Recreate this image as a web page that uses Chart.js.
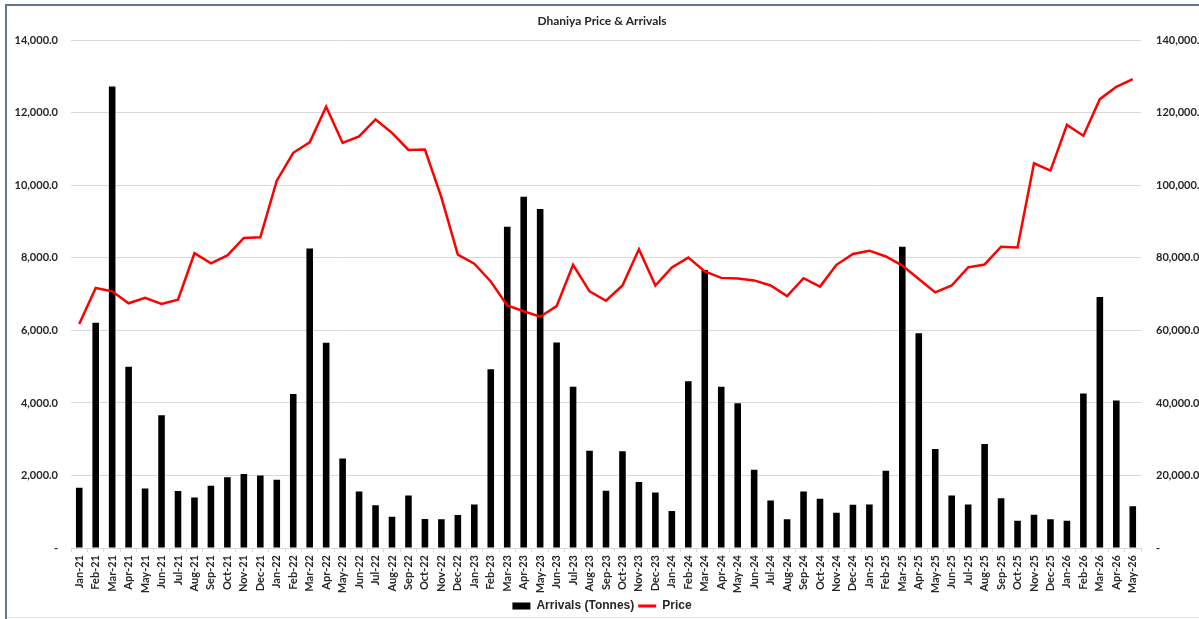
<!DOCTYPE html>
<html>
<head>
<meta charset="utf-8">
<title>Dhaniya Price &amp; Arrivals</title>
<script src="https://cdn.jsdelivr.net/npm/chart.js@4.4.1/dist/chart.umd.min.js"></script>
<style>
  html, body { margin: 0; padding: 0; background: #fff; }
  canvas { display: block; }
</style>
</head>
<body>
<canvas id="chart" width="1199" height="619"></canvas>
<script>
const months = [
  "Jan-21", "Feb-21", "Mar-21", "Apr-21", "May-21", "Jun-21", "Jul-21", "Aug-21", "Sep-21", "Oct-21", "Nov-21", "Dec-21",
  "Jan-22", "Feb-22", "Mar-22", "Apr-22", "May-22", "Jun-22", "Jul-22", "Aug-22", "Sep-22", "Oct-22", "Nov-22", "Dec-22",
  "Jan-23", "Feb-23", "Mar-23", "Apr-23", "May-23", "Jun-23", "Jul-23", "Aug-23", "Sep-23", "Oct-23", "Nov-23", "Dec-23",
  "Jan-24", "Feb-24", "Mar-24", "Apr-24", "May-24", "Jun-24", "Jul-24", "Aug-24", "Sep-24", "Oct-24", "Nov-24", "Dec-24",
  "Jan-25", "Feb-25", "Mar-25", "Apr-25", "May-25", "Jun-25", "Jul-25", "Aug-25", "Sep-25", "Oct-25", "Nov-25", "Dec-25",
  "Jan-26", "Feb-26", "Mar-26", "Apr-26", "May-26",
];

// arrivals in tonnes (right axis)
const arrivals = [
  16600, 62100, 127300, 50000, 16400, 36600, 15700, 13900, 17200, 19500, 20400, 20000,
  18800, 42500, 82600, 56600, 24700, 15600, 11800, 8600, 14500, 8000, 7900, 9100,
  12000, 49300, 88600, 96900, 93500, 56700, 44500, 26800, 15800, 26700, 18200, 15300,
  10200, 46000, 76700, 44500, 39900, 21600, 13100, 7900, 15600, 13600, 9700, 11900,
  12000, 21300, 83100, 59200, 27300, 14500, 12000, 28700, 13700, 7500, 9200, 7900,
  7500, 42600, 69200, 40700, 11500,
];

// price (left axis)
const price = [
  6180, 7170, 7080, 6750, 6900, 6730, 6850, 8130, 7850, 8070, 8550, 8570,
  10130, 10900, 11190, 12170, 11170, 11350, 11820, 11450, 10980, 10990, 9670, 8090,
  7840, 7350, 6690, 6530, 6380, 6670, 7810, 7080, 6820, 7240, 8240, 7240,
  7740, 8010, 7630, 7450, 7430, 7380, 7240, 6950, 7440, 7210, 7810, 8110,
  8200, 8040, 7790, 7420, 7050, 7240, 7740, 7820, 8310, 8290, 10610, 10410,
  11670, 11370, 12380, 12720, 12930,
];

const fmt = (v) =>
  v === 0 ? "-" : v.toLocaleString("en-US", { minimumFractionDigits: 1, maximumFractionDigits: 1 });

// white background + the thin frame of the excel chart
const frame = {
  id: "frame",
  beforeDraw(chart) {
    const { ctx, width, height } = chart;
    ctx.save();
    ctx.fillStyle = "#fff";
    ctx.fillRect(0, 0, width, height);
    ctx.strokeStyle = "#66758d";
    ctx.lineWidth = 2;
    ctx.beginPath();
    ctx.moveTo(6, height);
    ctx.lineTo(6, 5);
    ctx.lineTo(width, 5);
    ctx.stroke();
    ctx.strokeStyle = "#e4e4e4";
    ctx.lineWidth = 1;
    ctx.beginPath();
    ctx.moveTo(7, 617.5);
    ctx.lineTo(width, 617.5);
    ctx.stroke();
    ctx.restore();
  },
};

Chart.defaults.font.family = "Lato, 'DejaVu Sans', sans-serif";
Chart.defaults.color = "#262626";

new Chart(document.getElementById("chart"), {
  data: {
    labels: months,
    datasets: [
      {
        type: "bar",
        label: "Arrivals (Tonnes)",
        data: arrivals,
        yAxisID: "y1",
        backgroundColor: "#000",
        borderWidth: 0,
        barPercentage: 0.4,
        categoryPercentage: 1,
        pointStyle: "rect",
        order: 1,
      },
      {
        type: "line",
        label: "Price",
        data: price,
        yAxisID: "y",
        borderColor: "#ff0000",
        backgroundColor: "#ff0000",
        borderWidth: 2.5,
        tension: 0,
        pointRadius: 0,
        pointBorderWidth: 3,
        pointBorderColor: "#ff0000",
        pointStyle: "line",
        order: 0,
      },
    ],
  },
  options: {
    responsive: false,
    animation: false,
    devicePixelRatio: 1,
    layout: { padding: { left: 5, right: 0, top: 0, bottom: -3 } },
    scales: {
      x: {
        grid: { offset: true, drawOnChartArea: false, tickLength: 4, color: "#d9d9d9" },
        border: { color: "#d9d9d9" },
        ticks: {
          autoSkip: false,
          minRotation: 90,
          maxRotation: 90,
          padding: 3,
          font: { size: 11, weight: "bold" },
        },
        afterFit: (s) => {
          s.height = 48;
        },
      },
      y: {
        position: "left",
        min: 0,
        max: 14000,
        ticks: { stepSize: 2000, padding: 13, callback: fmt, font: { size: 11, weight: "bold" } },
        grid: { color: "#d9d9d9", drawTicks: false },
        border: { display: false },
        afterFit: (s) => {
          s.width = 66;
        },
      },
      y1: {
        position: "right",
        min: 0,
        max: 140000,
        ticks: { stepSize: 20000, padding: 15, callback: fmt, font: { size: 11, weight: "bold" } },
        grid: { drawOnChartArea: false, drawTicks: false },
        border: { display: false },
        afterFit: (s) => {
          s.width = 58;
        },
      },
    },
    plugins: {
      title: {
        display: true,
        text: "Dhaniya Price & Arrivals",
        font: { size: 12, weight: "bold" },
        color: "#262626",
        padding: { top: 14, bottom: 12 },
      },
      legend: {
        position: "bottom",
        labels: {
          usePointStyle: true,
          pointStyleWidth: 18,
          boxHeight: 7,
          padding: 4,
          color: "#262626",
          font: { family: "'Liberation Sans', Arial, sans-serif", size: 12, weight: "bold" },
          sort: (a, b) => a.datasetIndex - b.datasetIndex,
        },
      },
      tooltip: { enabled: false },
    },
  },
  plugins: [frame],
});
</script>
</body>
</html>
